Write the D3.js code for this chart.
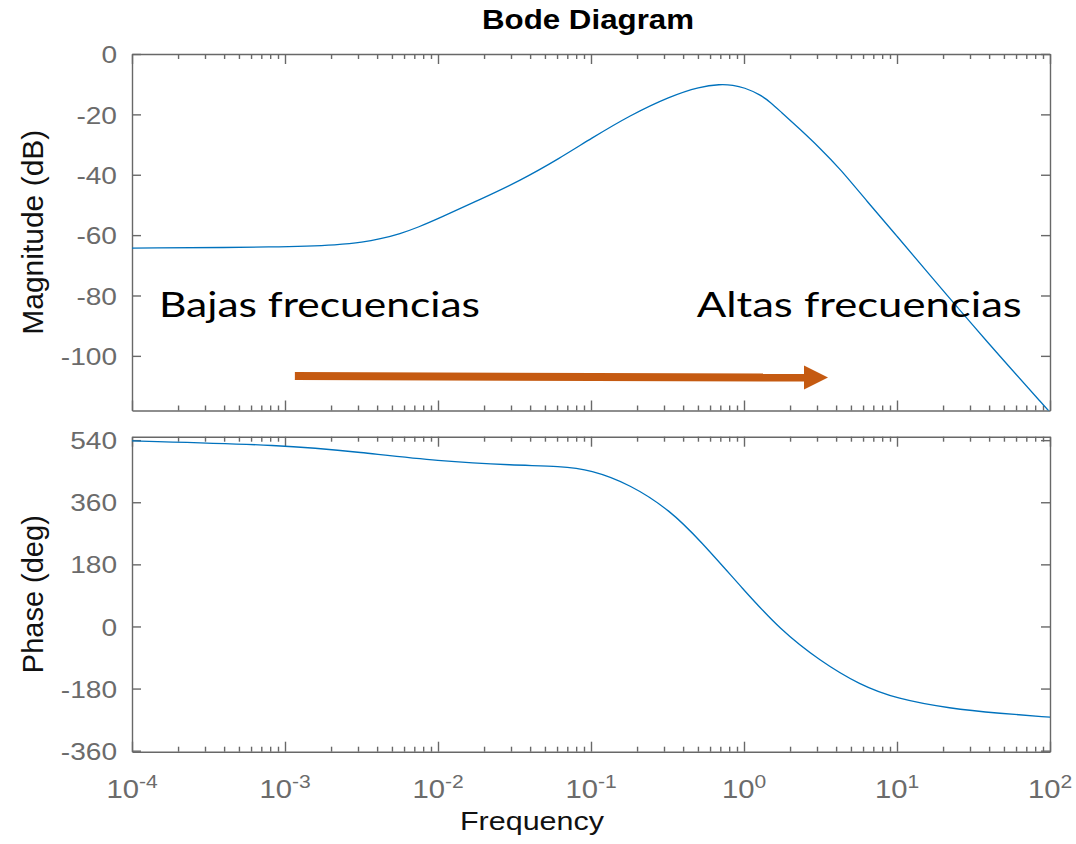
<!DOCTYPE html>
<html>
<head>
<meta charset="utf-8">
<title>Bode Diagram</title>
<style>
  body { margin: 0; background: #fff; }
  svg text { font-family: "Liberation Sans", Arial, sans-serif; }
  .ax path, .ax line { stroke-width: 1.4; }
</style>
</head>
<body>
<div id="chart"></div>
<script src="https://cdn.jsdelivr.net/npm/d3@7/dist/d3.min.js"></script>
<script>
// magnitude curve (frequency in rad/s, dB)
var magFreq = [1e-4, 1e-3, 2.29e-3, 3.2e-3, 4.18e-3, 5.65e-3, 7.5e-3, 1e-2, 1.88e-2, 3.44e-2, 6.27e-2, 0.1,
               0.18, 0.328, 0.515, 0.697, 0.85, 1, 1.27, 1.5, 1.72, 2.32, 3.14, 4.24, 6.34, 10, 15.6, 38.6, 100];
var magDb = [-64.3, -64.0, -63.2, -62.4, -61.3, -59.6, -57.3, -54.6, -48.2, -42.0, -34.5, -28.0,
             -20.3, -14.0, -10.8, -10.0, -10.3, -11.1, -13.4, -16.1, -18.9, -24.9, -31.2, -38.0, -48.7, -60.3, -72.0, -95.3, -118.7];

// phase curve (deg)
var phaseFreq = [1e-4, 1e-3, 3.09e-3, 1e-2, 3.18e-2, 6.27e-2, 0.1, 0.18, 0.328, 0.515,
                 1, 1.72, 3.14, 5.73, 10, 22.2, 47.1, 100];
var phaseDeg = [538, 526, 505, 479, 467, 465, 454, 412, 337, 250,
                105, -9, -100, -170, -210, -238, -252, -263];

var magTicks = [-100, -80, -60, -40, -20, 0];
var phaseTicks = [-360, -180, 0, 180, 360, 540];
var decades = [-4, -3, -2, -1, 0, 1, 2];

// annotations, placed in data coordinates of the magnitude panel
var noteText = ["Bajas frecuencias", "Altas frecuencias"];
var noteFreq = [1.5e-4, 0.491];
var noteDb = [-87.1, -87.1];
var arrowFreq = [1.16e-3, 3.54];
var arrowDb = [-106.7, -107.2];

var width = 1076, height = 844;
var x0 = 132, x1 = 1050;
var magTop = 54, magBot = 410.5;
var phTop = 436.7, phBot = 751.7;
var axisColor = "#686868";
var labelColor = "#6b6b6b";
var lineColor = "#0072BD";
var sx = 1.17; // horizontal stretch of the texts in the picture

var svg = d3.select("#chart").append("svg")
    .attr("width", width)
    .attr("height", height);

var x = d3.scaleLog().domain([1e-4, 1e2]).range([x0, x1]);
var yMag = d3.scaleLinear().domain([-118.1, 0]).range([magBot, magTop]);
var yPh = d3.scaleLinear().domain([-363, 550]).range([phBot, phTop]);

var majors = decades.map(function(d) { return Math.pow(10, d); });
var minors = [];
decades.slice(0, -1).forEach(function(d) {
  for (var m = 2; m < 10; m++) minors.push(m * Math.pow(10, d));
});

function frame(y, top, bottom, ticks, name) {
  var g = svg.append("g").attr("class", "ax").attr("color", axisColor);

  g.append("g").attr("transform", "translate(" + x0 + ",0)")
    .call(d3.axisLeft(y).tickValues(ticks).tickSize(-9).tickSizeOuter(0).tickPadding(15)
      .tickFormat(function(d) { return String(d); }))
    .selectAll("text")
      .attr("x", null)
      .attr("dy", "0.36em")
      .attr("transform", "translate(-15,0) scale(" + sx + ",1)")
      .attr("font-size", 24)
      .attr("fill", labelColor);

  g.append("g").attr("transform", "translate(" + x1 + ",0)")
    .call(d3.axisRight(y).tickValues(ticks).tickSize(-9).tickSizeOuter(0).tickFormat(""));

  [[top, d3.axisTop], [bottom, d3.axisBottom]].forEach(function(p) {
    g.append("g").attr("transform", "translate(0," + p[0] + ")")
      .call(p[1](x).tickValues(majors).tickSize(-10).tickSizeOuter(0).tickFormat(""));
    g.append("g").attr("transform", "translate(0," + p[0] + ")")
      .call(p[1](x).tickValues(minors).tickSize(-5).tickSizeOuter(0).tickFormat(""))
      .select(".domain").remove();
  });

  svg.append("clipPath").attr("id", name)
    .append("rect").attr("x", x0).attr("y", top).attr("width", x1 - x0).attr("height", bottom - top);
}

frame(yMag, magTop, magBot, magTicks, "clipMag");
frame(yPh, phTop, phBot, phaseTicks, "clipPh");

// curves
var magLine = d3.line()
  .x(function(d, i) { return x(magFreq[i]); })
  .y(function(d) { return yMag(d); })
  .curve(d3.curveBasis);
svg.append("path").datum(magDb)
  .attr("clip-path", "url(#clipMag)")
  .attr("d", magLine)
  .attr("fill", "none").attr("stroke", lineColor).attr("stroke-width", 1.3);

var phLine = d3.line()
  .x(function(d, i) { return x(phaseFreq[i]); })
  .y(function(d) { return yPh(d); })
  .curve(d3.curveBasis);
svg.append("path").datum(phaseDeg)
  .attr("clip-path", "url(#clipPh)")
  .attr("d", phLine)
  .attr("fill", "none").attr("stroke", lineColor).attr("stroke-width", 1.3);

// x tick labels 10^n
decades.forEach(function(d) {
  var t = svg.append("text")
    .attr("transform", "translate(" + x(Math.pow(10, d)) + ",798) scale(" + sx + ",1)")
    .attr("text-anchor", "middle")
    .attr("fill", labelColor)
    .attr("font-size", 25);
  t.append("tspan").text("10");
  t.append("tspan").attr("dy", -10).attr("font-size", 18).text(String(d));
});

// titles
svg.append("text")
  .attr("x", 588).attr("y", 29)
  .attr("text-anchor", "middle")
  .attr("font-weight", "bold").attr("font-size", 27)
  .attr("textLength", 212).attr("lengthAdjust", "spacingAndGlyphs")
  .attr("fill", "#000")
  .text("Bode Diagram");

svg.append("text")
  .attr("x", 532).attr("y", 830)
  .attr("text-anchor", "middle")
  .attr("font-size", 26)
  .attr("textLength", 144).attr("lengthAdjust", "spacingAndGlyphs")
  .attr("fill", "#111")
  .text("Frequency");

svg.append("text")
  .attr("transform", "translate(43," + (magTop + magBot) / 2 + ") rotate(-90)")
  .attr("text-anchor", "middle")
  .attr("font-size", 30)
  .attr("fill", "#111")
  .text("Magnitude (dB)");

svg.append("text")
  .attr("transform", "translate(43," + (phTop + phBot) / 2 + ") rotate(-90)")
  .attr("text-anchor", "middle")
  .attr("font-size", 29)
  .attr("fill", "#111")
  .text("Phase (deg)");

// annotations
var noteLen = [321, 325];
noteText.forEach(function(s, i) {
  svg.append("text")
    .attr("x", x(noteFreq[i])).attr("y", yMag(noteDb[i]))
    .style("font-family", "Lato, 'Open Sans', sans-serif")
    .attr("font-size", 35)
    .attr("textLength", noteLen[i]).attr("lengthAdjust", "spacingAndGlyphs")
    .attr("fill", "#000")
    .text(s);
});

var ax0 = x(arrowFreq[0]), ay0 = yMag(arrowDb[0]);
var ax1 = x(arrowFreq[1]), ay1 = yMag(arrowDb[1]);
var headLen = 24, headHalf = 12;
svg.append("line")
  .attr("x1", ax0).attr("y1", ay0)
  .attr("x2", ax1 - headLen + 2).attr("y2", ay1)
  .attr("stroke", "#C55A11").attr("stroke-width", 8);
svg.append("path")
  .attr("d", "M" + (ax1 - headLen) + "," + (ay1 - headHalf) + "L" + ax1 + "," + ay1 + "L" + (ax1 - headLen) + "," + (ay1 + headHalf) + "Z")
  .attr("fill", "#C55A11");
</script>
</body>
</html>
